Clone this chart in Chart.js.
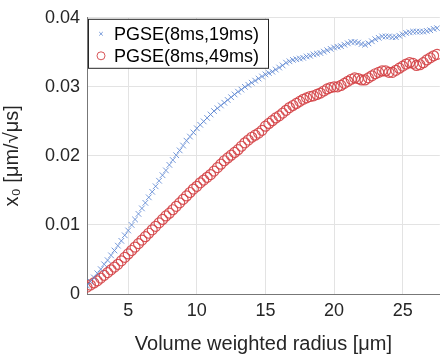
<!DOCTYPE html>
<html>
<head>
<meta charset="utf-8">
<script src="https://cdn.jsdelivr.net/npm/chart.js@4.4.1/dist/chart.umd.min.js"></script>
<style>
  html, body { margin: 0; padding: 0; background: #fff; }
  #wrap { width: 446px; height: 356px; }
</style>
</head>
<body>
<div id="wrap"><canvas id="x0-radius"></canvas></div>
<script>
// Rayons (um) et x0
const radius = [
  2.00, 2.25, 2.50, 2.75, 3.00, 3.25, 3.50, 3.75, 4.00, 4.25, 4.50, 4.75,
  5.00, 5.25, 5.50, 5.75, 6.00, 6.25, 6.50, 6.75, 7.00, 7.25, 7.50, 7.75,
  8.00, 8.25, 8.50, 8.75, 9.00, 9.25, 9.50, 9.75, 10.00, 10.25, 10.50, 10.75,
  11.00, 11.25, 11.50, 11.75, 12.00, 12.25, 12.50, 12.75, 13.00, 13.25, 13.50, 13.75,
  14.00, 14.25, 14.50, 14.75, 15.00, 15.25, 15.50, 15.75, 16.00, 16.25, 16.50, 16.75,
  17.00, 17.25, 17.50, 17.75, 18.00, 18.25, 18.50, 18.75, 19.00, 19.25, 19.50, 19.75,
  20.00, 20.25, 20.50, 20.75, 21.00, 21.25, 21.50, 21.75, 22.00, 22.25, 22.50, 22.75,
  23.00, 23.25, 23.50, 23.75, 24.00, 24.25, 24.50, 24.75, 25.00, 25.25, 25.50, 25.75,
  26.00, 26.25, 26.50, 26.75, 27.00, 27.25, 27.50
];

const pgse19 = [
  0.0012, 0.0018, 0.0024, 0.0030, 0.0036, 0.0043, 0.0049, 0.0056, 0.0063, 0.0070, 0.0077, 0.0085,
  0.0092, 0.0100, 0.0108, 0.0116, 0.0124, 0.0132, 0.0140, 0.0148, 0.0156, 0.0164, 0.0172, 0.0179,
  0.0187, 0.0194, 0.0201, 0.0208, 0.0215, 0.0222, 0.0228, 0.0234, 0.0240, 0.0245, 0.0250, 0.0255,
  0.0260, 0.0265, 0.0269, 0.0273, 0.0277, 0.0281, 0.0285, 0.0289, 0.0293, 0.0296, 0.0300, 0.0303,
  0.0306, 0.0309, 0.0312, 0.0315, 0.0318, 0.0320, 0.0322, 0.0325, 0.0328, 0.0331, 0.0335, 0.0337,
  0.0339, 0.0340, 0.0341, 0.0342, 0.0344, 0.0345, 0.0347, 0.0348, 0.0349, 0.0351, 0.0353, 0.0355,
  0.0357, 0.0358, 0.0359, 0.0361, 0.0363, 0.0365, 0.0365, 0.0364, 0.0362, 0.0361, 0.0363, 0.0366,
  0.0369, 0.0371, 0.0373, 0.0373, 0.0373, 0.0372, 0.0372, 0.0374, 0.0376, 0.0378, 0.0379, 0.0380,
  0.0380, 0.0380, 0.0380, 0.0381, 0.0382, 0.0384, 0.0385
];

const pgse49 = [
  0.0010, 0.0013, 0.0016, 0.0019, 0.0023, 0.0027, 0.0031, 0.0035, 0.0039, 0.0043, 0.0048, 0.0053,
  0.0058, 0.0063, 0.0068, 0.0073, 0.0078, 0.0083, 0.0088, 0.0093, 0.0098, 0.0103, 0.0108, 0.0113,
  0.0117, 0.0122, 0.0127, 0.0132, 0.0137, 0.0142, 0.0147, 0.0152, 0.0156, 0.0161, 0.0165, 0.0169,
  0.0173, 0.0178, 0.0183, 0.0188, 0.0193, 0.0197, 0.0201, 0.0205, 0.0209, 0.0214, 0.0219, 0.0223,
  0.0227, 0.0230, 0.0233, 0.0237, 0.0243, 0.0247, 0.0251, 0.0255, 0.0258, 0.0262, 0.0266, 0.0270,
  0.0273, 0.0276, 0.0279, 0.0282, 0.0284, 0.0286, 0.0287, 0.0289, 0.0291, 0.0294, 0.0297, 0.0299,
  0.0300, 0.0300, 0.0302, 0.0305, 0.0308, 0.0311, 0.0313, 0.0312, 0.0310, 0.0310, 0.0313, 0.0316,
  0.0319, 0.0321, 0.0323, 0.0323, 0.0321, 0.0321, 0.0324, 0.0327, 0.0330, 0.0333, 0.0335, 0.0334,
  0.0331, 0.0332, 0.0335, 0.0339, 0.0342, 0.0345, 0.0347
];

const xTicks = [5, 10, 15, 20, 25];
const yTicks = [0, 0.01, 0.02, 0.03, 0.04];
const seriesLabels = ['PGSE(8ms,19ms)', 'PGSE(8ms,49ms)'];

const bleu = 'rgba(84, 128, 208, 0.8)';
const rouge = 'rgba(212, 66, 70, 0.9)';
const police = '"Liberation Sans", Arial, sans-serif';

// Legende dans le coin haut-gauche, cadre gris facon MATLAB
const legendeInterne = {
  id: 'legendeInterne',
  afterDraw(chart) {
    const c = chart.ctx;
    const a = chart.chartArea;
    const x = a.left + 1, y = a.top + 1, w = 180, h = 49;
    const tailles = [2.5, 4];
    c.save();
    c.fillStyle = '#fff';
    c.fillRect(x, y, w, h);
    c.strokeStyle = '#262626';
    c.lineWidth = 1;
    c.strokeRect(x + 0.5, y + 0.5, w, h);
    c.font = '18px ' + police;
    c.textBaseline = 'middle';
    chart.data.datasets.forEach((ds, i) => {
      const cy = y + 15 + i * 22;
      c.strokeStyle = ds.borderColor;
      c.fillStyle = 'rgba(0,0,0,0)';
      c.lineWidth = 1;
      Chart.helpers.drawPoint(c, {
        pointStyle: ds.pointStyle, radius: tailles[i], rotation: 0, borderWidth: 1
      }, x + 13, cy);
      c.fillStyle = '#000';
      c.fillText(ds.label, x + 26, cy + 1);
    });
    c.restore();
  }
};

const ctx = document.getElementById('x0-radius');

new Chart(ctx, {
  type: 'scatter',
  data: {
    datasets: [{
      label: seriesLabels[0],
      data: radius.map((r, i) => ({ x: r, y: pgse19[i] })),
      pointStyle: 'crossRot',
      pointRadius: 4,
      borderColor: bleu,
      backgroundColor: bleu,
      borderWidth: 1
    }, {
      label: seriesLabels[1],
      data: radius.map((r, i) => ({ x: r, y: pgse49[i] })),
      pointStyle: 'circle',
      pointRadius: 5,
      borderColor: rouge,
      backgroundColor: 'rgba(0,0,0,0)',
      borderWidth: 1.2
    }]
  },
  options: {
    animation: false,
    responsive: true,
    maintainAspectRatio: false,
    layout: { padding: { top: 13, right: 0, bottom: 0, left: 0 } },
    plugins: {
      legend: { display: false },
      tooltip: { enabled: false }
    },
    scales: {
      x: {
        type: 'linear',
        min: 2,
        max: 27.7,
        afterBuildTicks: axis => { axis.ticks = xTicks.map(v => ({ value: v })); },
        afterFit: axis => { axis.height = 62; },
        grid: { color: '#e3e3e3', drawTicks: false },
        border: { color: '#777', width: 1 },
        ticks: { color: '#262626', font: { family: police, size: 18 }, padding: 6 },
        title: {
          display: true,
          text: 'Volume weighted radius [μm]',
          color: '#262626',
          font: { family: police, size: 20 },
          padding: { top: 2, bottom: 0 }
        }
      },
      y: {
        min: 0,
        max: 0.04,
        afterBuildTicks: axis => { axis.ticks = yTicks.map(v => ({ value: v })); },
        afterFit: axis => { axis.width = 87; },
        grid: { color: '#e3e3e3', drawTicks: false },
        border: { color: '#777', width: 1 },
        ticks: {
          color: '#262626',
          font: { family: police, size: 18 },
          padding: 7,
          callback: v => v === 0 ? '0' : v.toFixed(2)
        },
        title: {
          display: true,
          text: 'x₀ [μm/√μs]',
          color: '#262626',
          font: { family: police, size: 20 },
          padding: { top: 0, bottom: 4 }
        }
      }
    }
  },
  plugins: [legendeInterne]
});
</script>
</body>
</html>
